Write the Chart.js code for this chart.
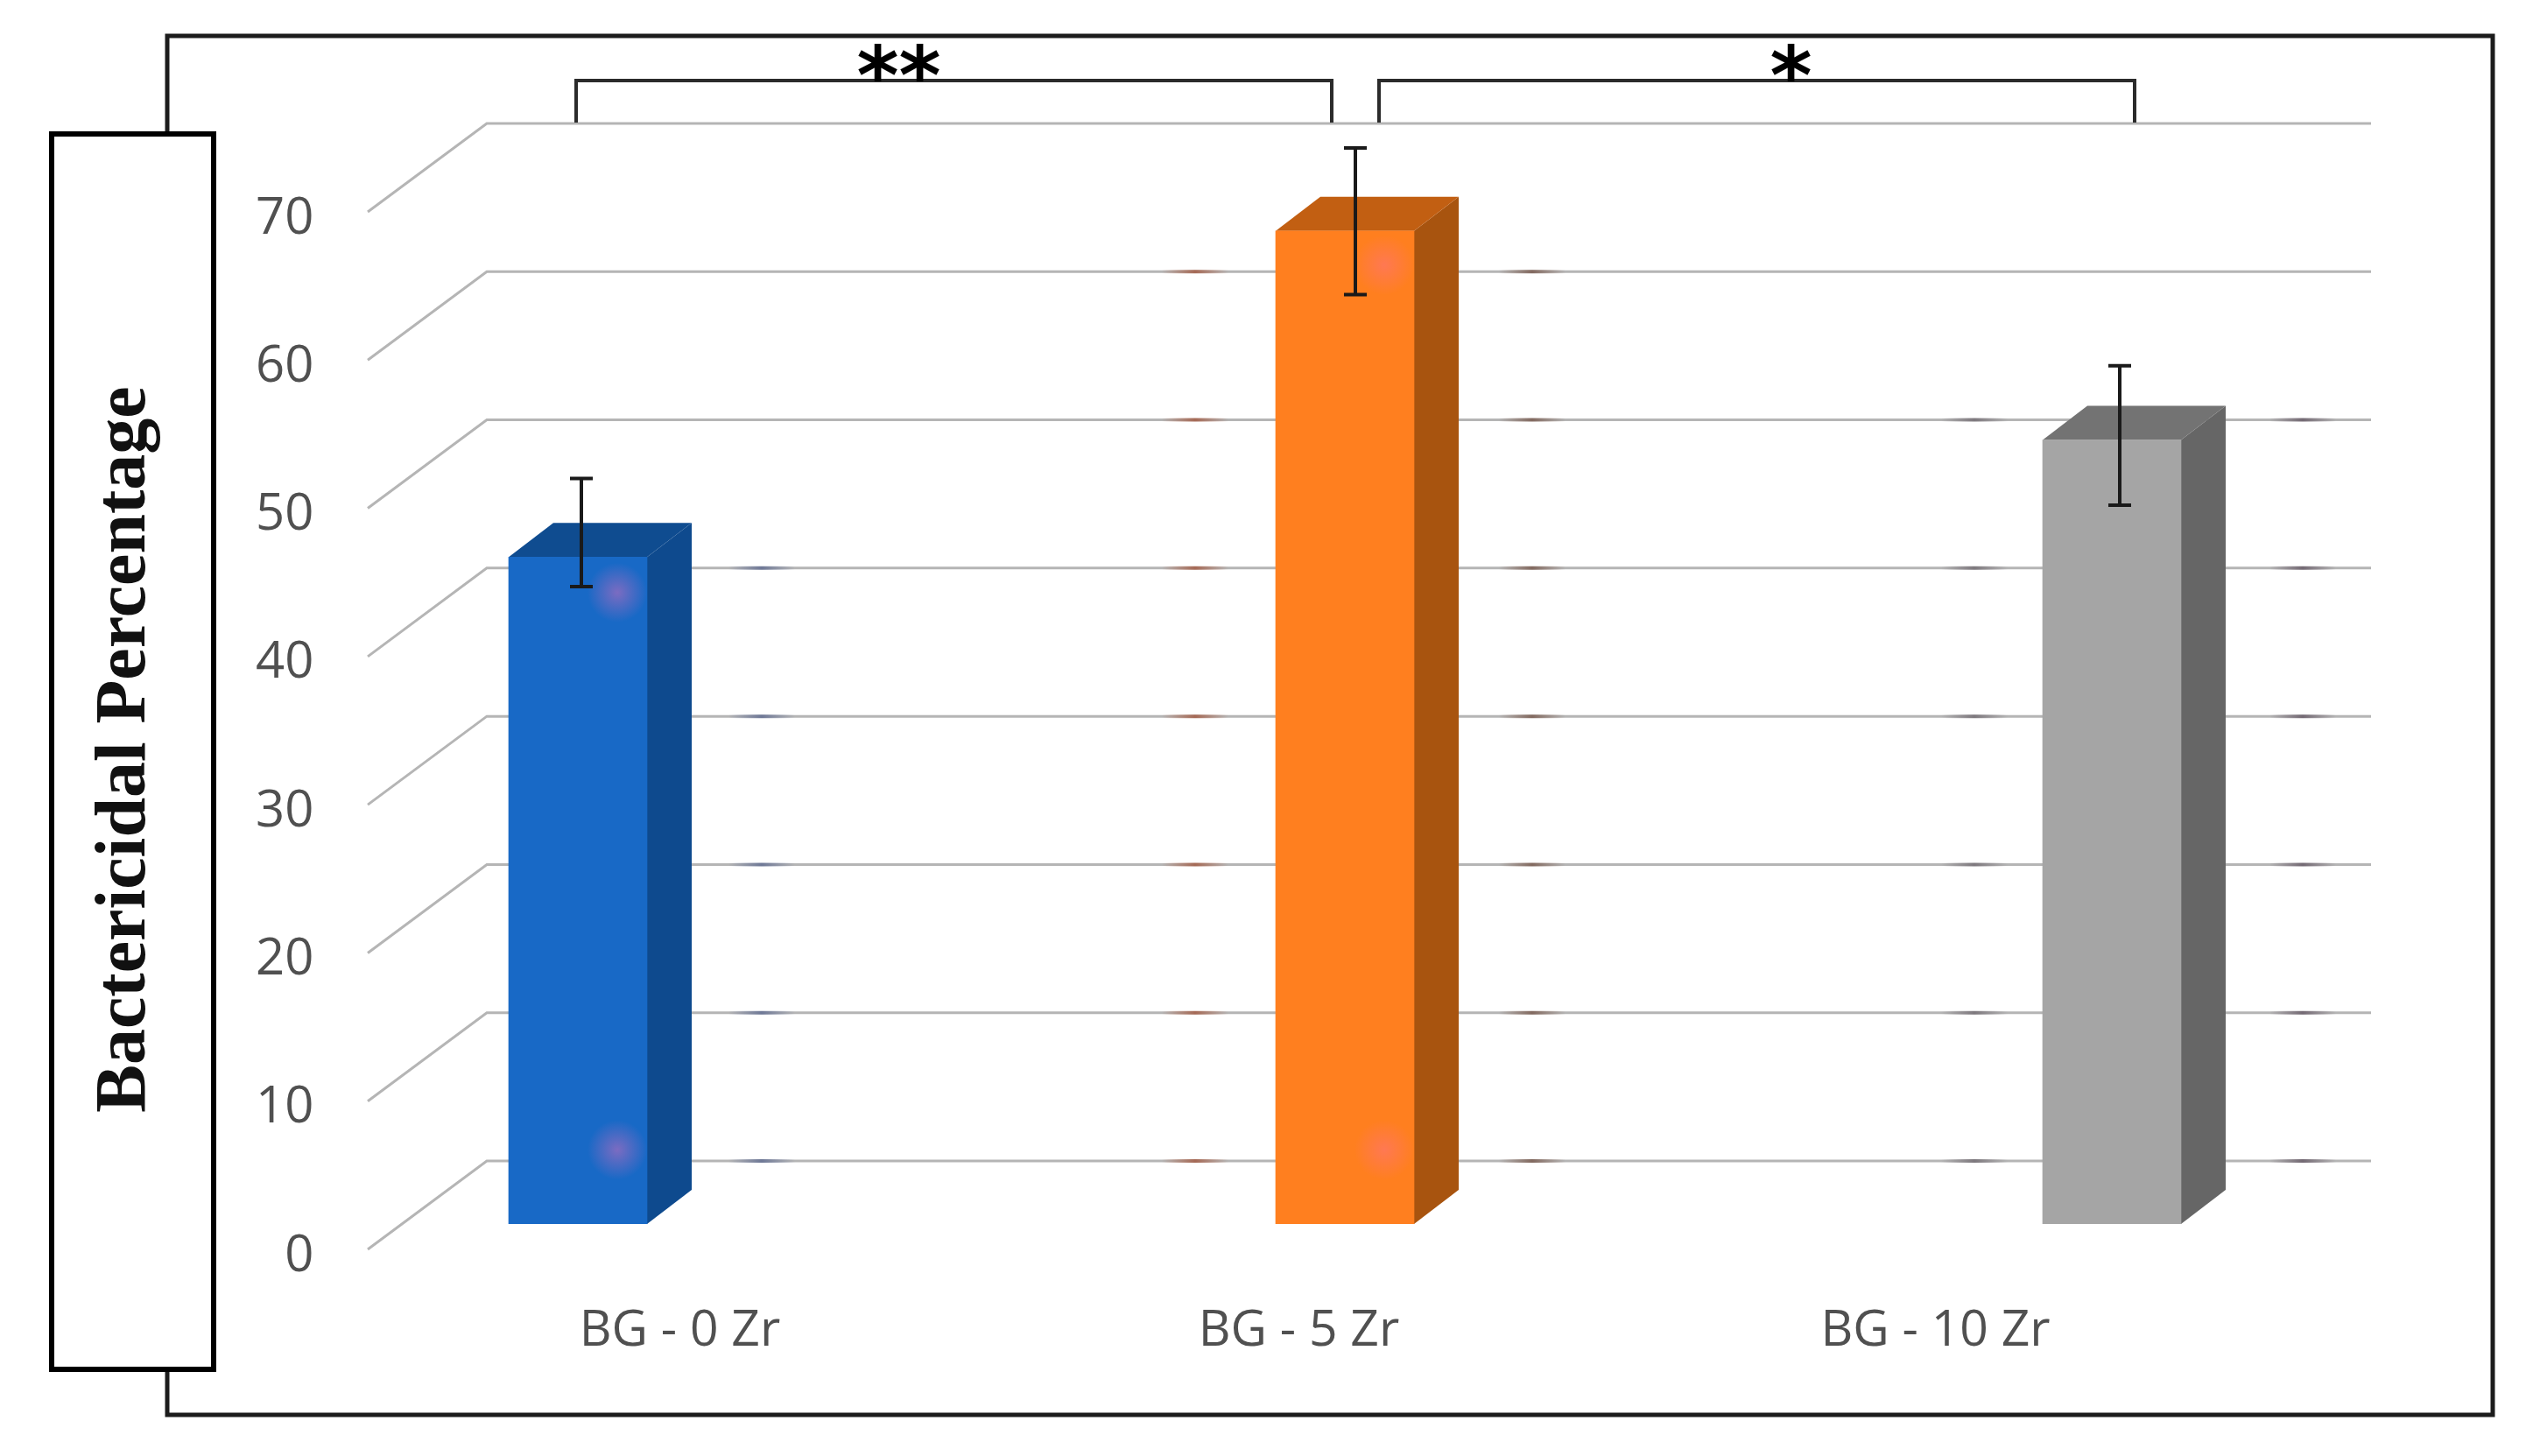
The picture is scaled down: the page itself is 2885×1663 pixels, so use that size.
<!DOCTYPE html>
<html>
<head>
<meta charset="utf-8">
<title>Bactericidal Percentage</title>
<script src="https://cdn.jsdelivr.net/npm/chart.js@4/dist/chart.umd.min.js"></script>
<style>
    html, body { margin: 0; padding: 0; background: #ffffff; }
    canvas { display: block; }
</style>
</head>
<body>
<canvas id="bactericidalChart" width="2885" height="1663"></canvas>
<script>
// Data
const categories = ['BG - 0 Zr', 'BG - 5 Zr', 'BG - 10 Zr'];
const bactericidal = [45, 67, 52.9];
const errorLow = [43, 62.7, 48.5];
const errorHigh = [50.3, 72.6, 57.9];
const significance = ['**', '*'];
const yAxisTitle = 'Bactericidal Percentage';

// Colours of each bar: front, side, top
const frontColors = ['#1869c6', '#ff7f1f', '#a5a5a5'];
const sideColors = ['#0e4a8e', '#a8540f', '#666666'];
const topColors = ['#0f4c90', '#c25f12', '#737373'];

// The x labels do not sit under the bars in the source, so they get their own axis (in category units)
const labelSpots = [0.133, 0.94, 1.77];
const errorShift = [4, 12, 9];

// Fake 3D depth
const barDepthX = 51;
const barDepthY = 39;
const wallOffset = -72;   // back wall, relative to the plane of the bars
const floorOffset = 29;   // front end of the side lines
const gridLeft = 420;
const gridCorner = 556;
const gridRight = 2708;

// Darker smudges on the back wall lines: x, highest value line it shows on, tint
const smudges = [
    [870, 40, '110,120,150'],
    [1365, 60, '165,105,85'],
    [1750, 60, '130,105,95'],
    [2255, 50, '125,120,125'],
    [2630, 50, '115,105,115']
];

// Pink glows on the front faces: bar index, height on the value axis, tint
const glows = [
    [0, 42.6, '205,110,190'],
    [0, 5, '205,110,190'],
    [1, 64.7, '255,115,125'],
    [1, 5, '255,115,125']
];

const pseudo3d = {
    id: 'pseudo3d',
    beforeDatasetsDraw(chart) {
        const ctx = chart.ctx;
        const yScale = chart.scales.y;
        const bars = chart.getDatasetMeta(0).data;

        // Frame and title box
        ctx.save();
        ctx.strokeStyle = '#1c1c1c';
        ctx.lineWidth = 5;
        ctx.strokeRect(191, 41, 2656, 1575);
        ctx.fillStyle = '#ffffff';
        ctx.strokeStyle = '#000000';
        ctx.lineWidth = 6;
        ctx.fillRect(59, 153, 185, 1411);
        ctx.strokeRect(59, 153, 185, 1411);

        ctx.translate(144, 856);
        ctx.rotate(-Math.PI / 2);
        ctx.fillStyle = '#111111';
        ctx.font = 'bold 82px "Liberation Serif"';
        ctx.textAlign = 'center';
        ctx.textBaseline = 'middle';
        ctx.fillText(yAxisTitle, 0, 0);
        ctx.restore();

        // Gridlines: side wall + back wall
        ctx.save();
        ctx.strokeStyle = '#b5b5b5';
        ctx.lineWidth = 3;
        yScale.ticks.forEach(tick => {
            const y = yScale.getPixelForValue(tick.value);
            ctx.beginPath();
            ctx.moveTo(gridLeft, y + floorOffset);
            ctx.lineTo(gridCorner, y + wallOffset);
            ctx.lineTo(gridRight, y + wallOffset);
            ctx.stroke();
        });
        ctx.lineWidth = 4;
        yScale.ticks.forEach(tick => {
            const y = yScale.getPixelForValue(tick.value) + wallOffset;
            smudges.forEach(s => {
                if (tick.value <= s[1]) {
                    const fade = ctx.createLinearGradient(s[0] - 38, 0, s[0] + 38, 0);
                    fade.addColorStop(0, `rgba(${s[2]},0)`);
                    fade.addColorStop(0.5, `rgba(${s[2]},1)`);
                    fade.addColorStop(1, `rgba(${s[2]},0)`);
                    ctx.strokeStyle = fade;
                    ctx.beginPath();
                    ctx.moveTo(s[0] - 38, y);
                    ctx.lineTo(s[0] + 38, y);
                    ctx.stroke();
                }
            });
        });
        ctx.restore();

        // Side and top faces of the bars
        ctx.save();
        bars.forEach((bar, i) => {
            const left = bar.x - bar.width / 2;
            const right = bar.x + bar.width / 2;
            ctx.fillStyle = sideColors[i];
            ctx.beginPath();
            ctx.moveTo(right, bar.y);
            ctx.lineTo(right + barDepthX, bar.y - barDepthY);
            ctx.lineTo(right + barDepthX, bar.base - barDepthY);
            ctx.lineTo(right, bar.base);
            ctx.closePath();
            ctx.fill();

            ctx.fillStyle = topColors[i];
            ctx.beginPath();
            ctx.moveTo(left, bar.y);
            ctx.lineTo(left + barDepthX, bar.y - barDepthY);
            ctx.lineTo(right + barDepthX, bar.y - barDepthY);
            ctx.lineTo(right, bar.y);
            ctx.closePath();
            ctx.fill();
        });
        ctx.restore();
    },
    afterDatasetsDraw(chart) {
        const ctx = chart.ctx;
        const yScale = chart.scales.y;
        const xScale = chart.scales.x;
        const bars = chart.getDatasetMeta(0).data;

        // Glows on the front faces
        ctx.save();
        glows.forEach(g => {
            const gx = bars[g[0]].x + 45;
            const gy = yScale.getPixelForValue(g[1]);
            const glow = ctx.createRadialGradient(gx, gy, 0, gx, gy, 34);
            glow.addColorStop(0, `rgba(${g[2]},0.55)`);
            glow.addColorStop(1, `rgba(${g[2]},0)`);
            ctx.fillStyle = glow;
            ctx.fillRect(gx - 34, gy - 34, 68, 68);
        });
        ctx.restore();

        // Error bars
        ctx.save();
        ctx.strokeStyle = '#1a1a1a';
        ctx.lineWidth = 4;
        bars.forEach((bar, i) => {
            const x = bar.x + errorShift[i];
            const top = yScale.getPixelForValue(errorHigh[i]);
            const bottom = yScale.getPixelForValue(errorLow[i]);
            ctx.beginPath();
            ctx.moveTo(x, top);
            ctx.lineTo(x, bottom);
            ctx.moveTo(x - 13, top);
            ctx.lineTo(x + 13, top);
            ctx.moveTo(x - 13, bottom);
            ctx.lineTo(x + 13, bottom);
            ctx.stroke();
        });
        ctx.restore();

        // Significance brackets between the bars
        const legTop = 92;
        const legBottom = 140;
        const brackets = [
            [xScale.getPixelForValue(0) - 2, xScale.getPixelForValue(1) - 15],
            [xScale.getPixelForValue(1) + 39, xScale.getPixelForValue(2) + 26]
        ];
        const starShift = [-63, 39];
        ctx.save();
        ctx.strokeStyle = '#2b2b2b';
        ctx.lineWidth = 4;
        brackets.forEach((b, i) => {
            ctx.beginPath();
            ctx.moveTo(b[0], legBottom);
            ctx.lineTo(b[0], legTop);
            ctx.lineTo(b[1], legTop);
            ctx.lineTo(b[1], legBottom);
            ctx.stroke();

            ctx.fillStyle = '#000000';
            ctx.font = 'bold 92px "DejaVu Sans"';
            ctx.textAlign = 'center';
            ctx.textBaseline = 'alphabetic';
            ctx.fillText(significance[i], (b[0] + b[1]) / 2 + starShift[i], 119);
        });
        ctx.restore();
    }
};

const ctx = document.getElementById('bactericidalChart').getContext('2d');

new Chart(ctx, {
    type: 'bar',
    data: {
        labels: categories,
        datasets: [{
            label: yAxisTitle,
            data: bactericidal,
            backgroundColor: frontColors,
            borderWidth: 0,
            barThickness: 158
        }]
    },
    options: {
        responsive: false,
        animation: false,
        layout: { padding: { left: 222, right: 35, top: 213, bottom: 0 } },
        plugins: {
            legend: { display: false },
            tooltip: { enabled: false }
        },
        scales: {
            x: {
                display: false,
                offset: true
            },
            // Only carries the category labels
            xLabels: {
                type: 'linear',
                position: 'bottom',
                offset: false,
                min: -0.5,
                max: 2.5,
                afterBuildTicks: scale => {
                    scale.ticks = labelSpots.map(v => ({ value: v }));
                },
                afterFit: scale => { scale.height = 265; },
                grid: { display: false },
                border: { display: false },
                ticks: {
                    autoSkip: false,
                    maxRotation: 0,
                    padding: 81,
                    color: '#505050',
                    font: { family: "'Open Sans', sans-serif", size: 57 },
                    callback: (value, index) => categories[index]
                }
            },
            y: {
                min: 0,
                max: 70,
                afterFit: scale => { scale.width = 0; },
                grid: { display: false },
                border: { display: false },
                ticks: {
                    stepSize: 10,
                    mirror: true,
                    crossAlign: 'far',
                    padding: 70,
                    labelOffset: 37,
                    color: '#505050',
                    font: { family: "'Open Sans', sans-serif", size: 58 }
                }
            }
        }
    },
    plugins: [pseudo3d]
});
</script>
</body>
</html>
